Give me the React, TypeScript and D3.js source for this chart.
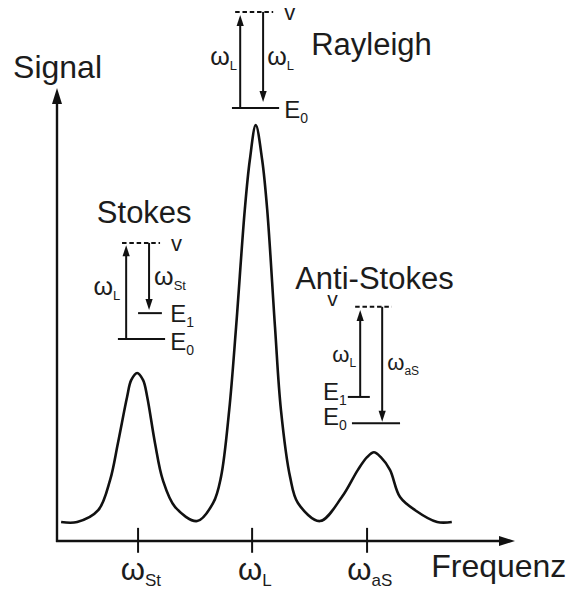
import React from "react";
import * as d3 from "d3";

// Spectrum curve (frequency units, signal units)
const curveX = [0.9, 4.4, 9.0, 11.6, 13.3, 15.3, 16.2, 17.5, 18.8, 19.7, 21.4, 23.1, 25.8, 30.6, 34.1, 35.8, 37.6, 39.1, 41.0, 42.1, 43.4, 44.8, 45.9, 47.6, 48.9, 50.9, 52.6, 57.4, 62.2, 65.7, 67.7, 69.2, 70.7, 72.7, 74.9, 78.2, 83.0, 86.2];
const curveY = [4.2, 4.2, 6.8, 13.5, 21.6, 31.8, 35.5, 37.1, 35.5, 31.8, 21.6, 13.5, 7.5, 4.4, 8.4, 14.1, 28.9, 47.2, 73.1, 84.1, 91.8, 84.1, 73.1, 47.2, 28.9, 14.1, 8.4, 4.4, 9.7, 15.7, 18.5, 19.6, 18.5, 15.7, 9.7, 6.8, 4.2, 4.2];

// Tick positions and labels
const tickPos = [17.7, 42.6, 67.7];
const tickMain = ["ω", "ω", "ω"];
const tickSub = ["St", "L", "aS"];

const W = 569, H = 590;
const FONT = "'Liberation Sans', Arial, Helvetica, sans-serif";
const INK = "#111";
const TXT = "#1c1c1c";

const x = d3.scaleLinear().domain([0, 100]).range([57, 515]);
const y = d3.scaleLinear().domain([0, 100]).range([541, 88]);

function HLine({ x0, x1, yv, dashed }: { x0: number; x1: number; yv: number; dashed?: boolean }) {
  return (
    <line x1={x(x0)} x2={x(x1)} y1={y(yv)} y2={y(yv)} stroke={INK} strokeWidth={2}
      strokeDasharray={dashed ? "4.5,2.8" : undefined} />
  );
}

function Arrow({ xv, from, to }: { xv: number; from: number; to: number }) {
  const px = x(xv);
  const y0 = y(from);
  const yt = y(to);
  const dir = yt < y0 ? -1 : 1;
  const headLen = 11;
  const half = 3.6;
  const yb = yt - dir * headLen;
  return (
    <g>
      <line x1={px} x2={px} y1={y0} y2={yb + dir * 1} stroke={INK} strokeWidth={2} />
      <path d={`M${px},${yt}L${px - half},${yb}L${px + half},${yb}Z`} fill={INK} />
    </g>
  );
}

function Label({ xv, yv, main, sub, size, subSize, anchor = "start", subDy = 5 }: any) {
  return (
    <text x={x(xv)} y={y(yv)} fontFamily={FONT} fontSize={size} fill={TXT} textAnchor={anchor}>
      {main}
      {sub ? (
        <tspan fontSize={subSize} dy={subDy}>{sub}</tspan>
      ) : null}
    </text>
  );
}

export default function App() {
  const line = d3
    .line<number>()
    .x((_, i) => x(curveX[i]))
    .y((d) => y(d))
    .curve(d3.curveCatmullRom.alpha(0.5));
  const pathD = line(curveY) || "";

  const xAxisY = y(0);
  const yAxisX = x(0);

  return (
    <svg width={W} height={H} style={{ position: "absolute", left: 0, top: 0, background: "#fff" }}>
      <rect width={W} height={H} fill="#fff" />
      {/* axes */}
      <line x1={yAxisX} x2={yAxisX} y1={xAxisY + 1} y2={y(100) + 14} stroke={INK} strokeWidth={2.4} />
      <path d={`M${yAxisX},${y(100)}L${yAxisX - 5},${y(100) + 16}L${yAxisX + 5},${y(100) + 16}Z`} fill={INK} />
      <line x1={yAxisX - 1} x2={x(100) - 14} y1={xAxisY} y2={xAxisY} stroke={INK} strokeWidth={2.4} />
      <path d={`M${x(100)},${xAxisY}L${x(100) - 16},${xAxisY - 5}L${x(100) - 16},${xAxisY + 5}Z`} fill={INK} />

      {tickPos.map((t, i) => (
        <g key={i}>
          <line x1={x(t)} x2={x(t)} y1={y(2.9)} y2={y(-2.6)} stroke={INK} strokeWidth={2} />
          <Label xv={t + 0.6} yv={-8.6} main={tickMain[i]} sub={tickSub[i]} size={31} subSize={17} anchor="middle" subDy={6} />
        </g>
      ))}

      {/* curve */}
      <path d={pathD} fill="none" stroke={INK} strokeWidth={2.6} strokeLinejoin="round" />

      {/* axis labels */}
      <text x={x(-9.6)} y={y(102.2)} fontFamily={FONT} fontSize={32} fill={TXT}>Signal</text>
      <text x={x(81.7)} y={y(-7.9)} fontFamily={FONT} fontSize={32} fill={TXT}>Frequenz</text>

      {/* Rayleigh diagram */}
      <text x={x(55.5)} y={y(107.3)} fontFamily={FONT} fontSize={31} fill={TXT}>Rayleigh</text>
      <HLine x0={38.9} x1={47.2} yv={116.8} dashed />
      <HLine x0={38.2} x1={48.5} yv={95.6} />
      <Arrow xv={40.0} from={95.6} to={116.1} />
      <Arrow xv={45.0} from={116.8} to={96.9} />
      <Label xv={49.6} yv={115.0} main="v" size={22} />
      <Label xv={49.6} yv={93.4} main="E" sub="0" size={24} subSize={14} />
      <Label xv={39.3} yv={105.1} main="ω" sub="L" size={25} subSize={13} anchor="end" />
      <Label xv={45.9} yv={105.1} main="ω" sub="L" size={25} subSize={13} />

      {/* Stokes diagram */}
      <text x={x(8.7)} y={y(70.2)} fontFamily={FONT} fontSize={31} fill={TXT}>Stokes</text>
      <HLine x0={14.2} x1={22.5} yv={65.8} dashed />
      <HLine x0={17.7} x1={22.9} yv={50.3} />
      <HLine x0={13.3} x1={23.6} yv={44.6} />
      <Arrow xv={15.1} from={44.6} to={65.3} />
      <Arrow xv={20.1} from={65.8} to={51.0} />
      <Label xv={24.9} yv={64.0} main="v" size={22} />
      <Label xv={24.7} yv={48.3} main="E" sub="1" size={24} subSize={14} />
      <Label xv={24.7} yv={42.2} main="E" sub="0" size={24} subSize={14} />
      <Label xv={13.8} yv={54.3} main="ω" sub="L" size={25} subSize={13} anchor="end" />
      <Label xv={21.2} yv={56.5} main="ω" sub="St" size={25} subSize={13} />

      {/* Anti-Stokes diagram */}
      <text x={x(52.0)} y={y(55.7)} fontFamily={FONT} fontSize={31} fill={TXT}>Anti-Stokes</text>
      <HLine x0={65.1} x1={73.1} yv={51.7} dashed />
      <HLine x0={63.5} x1={68.3} yv={31.8} />
      <HLine x0={64.4} x1={74.9} yv={26.0} />
      <Arrow xv={66.2} from={31.8} to={51.0} />
      <Arrow xv={71.0} from={51.7} to={26.3} />
      <Label xv={59.0} yv={51.9} main="v" size={21} />
      <Label xv={58.1} yv={31.1} main="E" sub="1" size={24} subSize={14} />
      <Label xv={58.1} yv={25.6} main="E" sub="0" size={24} subSize={14} />
      <Label xv={65.3} yv={39.5} main="ω" sub="L" size={22} subSize={12} anchor="end" />
      <Label xv={72.1} yv={37.7} main="ω" sub="aS" size={22} subSize={12} />
    </svg>
  );
}
